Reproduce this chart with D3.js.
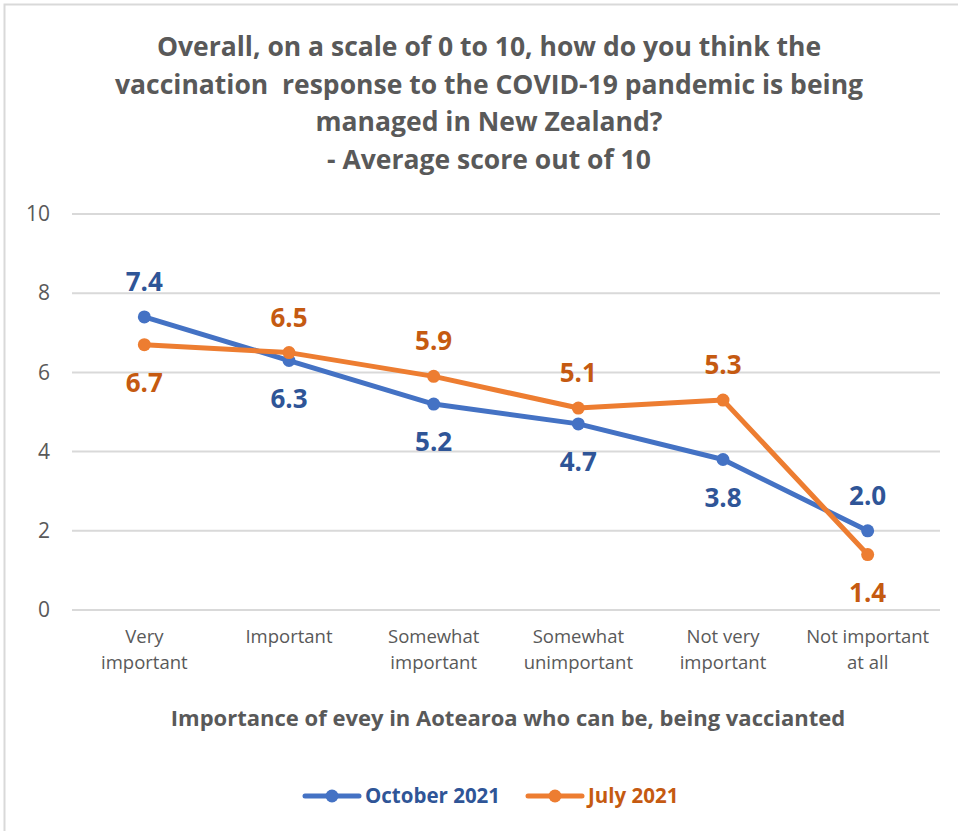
<!DOCTYPE html>
<html>
<head>
<meta charset="utf-8">
<script src="https://cdn.jsdelivr.net/npm/d3@7"></script>
<style>
  body { margin: 0; background: #fff; }
  svg { display: block; }
</style>
</head>
<body>
<div id="chart"></div>
<script>
// chart data
const categories = [
  ["Very", "important"],
  ["Important"],
  ["Somewhat", "important"],
  ["Somewhat", "unimportant"],
  ["Not very", "important"],
  ["Not important", "at all"]
];
const october2021 = [7.4, 6.3, 5.2, 4.7, 3.8, 2.0];
const july2021 = [6.7, 6.5, 5.9, 5.1, 5.3, 1.4];
const yTicks = [0, 2, 4, 6, 8, 10];
const titleLines = [
  "Overall, on a scale of 0 to 10, how do you think the",
  "vaccination  response to the COVID-19 pandemic is being",
  "managed in New Zealand?",
  "- Average score out of 10"
];
const xTitle = "Importance of evey in Aotearoa who can be, being vaccianted";

const series = [
  { name: "October 2021", values: october2021, line: "#4472C4", label: "#2F5597" },
  { name: "July 2021", values: july2021, line: "#ED7D31", label: "#C55A11" }
];

const W = 958, H = 831;
const plot = { left: 72, right: 940, top: 214, bottom: 610 };
const font = "'Open Sans', sans-serif";

const svg = d3.select('#chart').append('svg')
  .attr('width', W).attr('height', H);

// chart border
svg.append('rect')
  .attr('x', 4.5).attr('y', 4.5)
  .attr('width', W + 10).attr('height', H + 10)
  .attr('fill', '#fff').attr('stroke', '#d9d9d9').attr('stroke-width', 2);

// title (keeps the double space of the original)
svg.append('text')
  .attr('text-anchor', 'middle')
  .style('white-space', 'pre')
  .attr('font-family', font).attr('font-weight', 'bold')
  .attr('font-size', 26.5).attr('fill', '#595959')
  .selectAll('tspan').data(titleLines).enter().append('tspan')
  .attr('x', 489).attr('y', (d, i) => 56 + i * 37.7)
  .text(d => d);

const x = d3.scaleBand()
  .domain(d3.range(categories.length))
  .range([plot.left, plot.right]);

const y = d3.scaleLinear()
  .domain([0, 10])
  .range([plot.bottom, plot.top]);

// gridlines
svg.append('g')
  .selectAll('line').data(yTicks).enter().append('line')
  .attr('x1', plot.left).attr('x2', plot.right)
  .attr('y1', d => y(d)).attr('y2', d => y(d))
  .attr('stroke', '#d9d9d9').attr('stroke-width', 2);

// y axis labels
const yAxis = svg.append('g')
  .attr('transform', 'translate(' + (plot.left - 22) + ',0)')
  .call(d3.axisLeft(y).tickValues(yTicks).tickSize(0).tickPadding(0));
yAxis.select('.domain').remove();
yAxis.selectAll('text')
  .attr('font-family', font).attr('font-size', 21).attr('fill', '#595959');

// x axis labels
const xAxis = svg.append('g')
  .attr('transform', 'translate(0,' + plot.bottom + ')')
  .call(d3.axisBottom(x).tickSize(0).tickFormat(''));
xAxis.select('.domain').remove();
xAxis.selectAll('.tick').each(function (d) {
  const t = d3.select(this).append('text')
    .attr('text-anchor', 'middle')
    .attr('font-family', font).attr('font-size', 18.5).attr('fill', '#595959');
  categories[d].forEach((s, i) => {
    t.append('tspan').attr('x', 0).attr('y', 33 + i * 26).text(s);
  });
});

// x axis title
svg.append('text')
  .attr('x', 508).attr('y', 726)
  .attr('text-anchor', 'middle')
  .attr('font-family', font).attr('font-weight', 'bold')
  .attr('font-size', 22).attr('fill', '#595959')
  .text(xTitle);

const cx = i => x(i) + x.bandwidth() / 2;

const line = d3.line()
  .x((d, i) => cx(i))
  .y(d => y(d));

// July drawn over October
[series[0], series[1]].forEach(s => {
  svg.append('path')
    .datum(s.values)
    .attr('d', line)
    .attr('fill', 'none')
    .attr('stroke', s.line).attr('stroke-width', 5)
    .attr('stroke-linejoin', 'round');
  svg.append('g').selectAll('circle')
    .data(s.values).enter().append('circle')
    .attr('cx', (d, i) => cx(i)).attr('cy', d => y(d))
    .attr('r', 6.5).attr('fill', s.line);
});

// data labels: higher value above, lower value below
series.forEach((s, si) => {
  const other = series[1 - si].values;
  svg.append('g').selectAll('text')
    .data(s.values).enter().append('text')
    .attr('x', (d, i) => cx(i))
    .attr('y', (d, i) => d >= other[i] ? y(d) - 26 : y(d) + 47)
    .attr('text-anchor', 'middle')
    .attr('font-family', font).attr('font-weight', 'bold')
    .attr('font-size', 26).attr('fill', s.label)
    .text(d => d.toFixed(1));
});

// legend
const legend = [
  { s: series[0], x: 305, tx: 365 },
  { s: series[1], x: 528, tx: 588 }
];
legend.forEach(l => {
  const g = svg.append('g').attr('transform', 'translate(' + l.x + ',796)');
  g.append('line').attr('x1', 0).attr('x2', 54).attr('y1', 0).attr('y2', 0)
    .attr('stroke', l.s.line).attr('stroke-width', 5).attr('stroke-linecap', 'round');
  g.append('circle').attr('cx', 27).attr('cy', 0).attr('r', 6.5).attr('fill', l.s.line);
  svg.append('text')
    .attr('x', l.tx).attr('y', 803)
    .attr('font-family', font).attr('font-weight', 'bold')
    .attr('font-size', 20.5).attr('fill', l.s.label)
    .text(l.s.name);
});
</script>
</body>
</html>
